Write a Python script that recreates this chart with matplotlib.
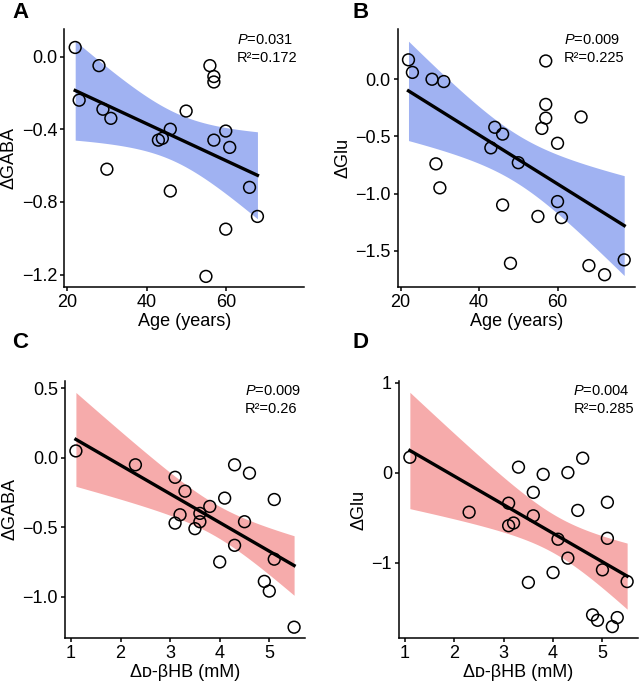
import numpy as np
import matplotlib

matplotlib.use("Agg")
import matplotlib.pyplot as plt

# ---- data ------------------------------------------------------------------
age_gaba = [22, 23, 28, 29, 31, 30, 50, 43, 44, 46, 46, 56, 57, 57, 57, 60, 61, 60, 55, 66, 68]
dgaba_age = [0.05, -0.24, -0.05, -0.29, -0.34, -0.62, -0.30, -0.46, -0.45, -0.40, -0.74,
             -0.05, -0.11, -0.14, -0.46, -0.41, -0.50, -0.95, -1.21, -0.72, -0.88]

age_glu = [22, 23, 28, 31, 29, 30, 57, 57, 57, 56, 66, 44, 46, 43, 50, 60, 60, 61, 46, 55,
           48, 68, 72, 77]
dglu_age = [0.17, 0.06, 0.00, -0.02, -0.74, -0.95, 0.16, -0.22, -0.34, -0.43, -0.33, -0.42,
            -0.48, -0.60, -0.73, -0.56, -1.07, -1.21, -1.10, -1.20, -1.61, -1.63, -1.71, -1.58]

bhb_gaba = [1.1, 2.3, 3.1, 3.3, 4.1, 4.3, 4.6, 5.1, 3.8, 3.6, 3.2, 3.1, 3.6, 3.5, 4.5, 4.3,
            4.0, 5.1, 4.9, 5.0, 5.5]
dgaba_bhb = [0.05, -0.05, -0.14, -0.24, -0.29, -0.05, -0.11, -0.30, -0.35, -0.40, -0.41,
             -0.47, -0.46, -0.51, -0.46, -0.63, -0.75, -0.73, -0.89, -0.96, -1.22]

bhb_glu = [1.1, 2.3, 3.3, 3.8, 4.3, 4.6, 3.1, 3.6, 3.6, 3.1, 3.2, 4.5, 5.1, 5.1, 4.1, 4.3,
           4.0, 3.5, 5.0, 5.5, 4.8, 4.9, 5.2, 5.3]
dglu_bhb = [0.17, -0.44, 0.06, -0.02, 0.00, 0.16, -0.34, -0.22, -0.48, -0.59, -0.56, -0.42,
            -0.33, -0.73, -0.74, -0.95, -1.11, -1.22, -1.08, -1.21, -1.58, -1.64, -1.71, -1.61]

stats = [("0.031", "0.172"), ("0.009", "0.225"), ("0.009", "0.26"), ("0.004", "0.285")]
t95 = {19: 2.093, 22: 2.074}  # two-sided 95% t quantiles

BLUE = "#a0b2f2"
RED = "#f6abab"

plt.rcParams.update({
    "font.family": ["Liberation Sans", "DejaVu Sans"],
    "font.size": 13,
    "mathtext.fontset": "custom",
    "mathtext.it": "Liberation Sans:italic",
    "mathtext.rm": "Liberation Sans",
    "axes.linewidth": 1.1,
    "xtick.major.width": 1.1,
    "ytick.major.width": 1.1,
    "xtick.major.size": 3,
    "ytick.major.size": 3,
})

W, H = 639, 685
fig = plt.figure(figsize=(W / 100, H / 100), dpi=100)


def px_axes(left, right, top, bottom):
    return fig.add_axes([left / W, 1 - bottom / H, (right - left) / W, (bottom - top) / H])


def panel(ax, x, y, fill, xlim, ylim, xticks, yticks, yfmt, xlabel, ylabel, p, r2, tx):
    x = np.asarray(x, float)
    y = np.asarray(y, float)
    n = x.size
    b, a = np.polyfit(x, y, 1)
    res = y - (a + b * x)
    s = np.sqrt(np.sum(res**2) / (n - 2))
    xs = np.linspace(x.min(), x.max(), 100)
    se = s * np.sqrt(1 / n + (xs - x.mean())**2 / np.sum((x - x.mean())**2))
    fit = a + b * xs
    ax.fill_between(xs, fit - t95[n - 2] * se, fit + t95[n - 2] * se, color=fill, lw=0, zorder=1)
    ax.scatter(x, y, s=72, facecolors="none", edgecolors="black", linewidths=1.1, zorder=2)
    ax.plot(xs, fit, color="black", lw=2.4, zorder=3)
    ax.set_xlim(*xlim)
    ax.set_ylim(*ylim)
    ax.set_xticks(xticks)
    ax.set_yticks(yticks)
    ax.set_yticklabels([yfmt.format(v).replace("-", "\u2212") for v in yticks])
    ax.set_xlabel(xlabel, fontsize=13, labelpad=1)
    ax.set_ylabel(ylabel, fontsize=13, labelpad=3)
    ax.tick_params(labelsize=13, pad=2, colors="black")
    for side in ("top", "right"):
        ax.spines[side].set_visible(False)
    ax.text(tx, 0.96, "$P$=" + p, transform=ax.transAxes, fontsize=10.5, va="center", ha="left")
    ax.text(tx, 0.89, "R\u00b2=" + r2, transform=ax.transAxes, fontsize=10.5, va="center", ha="left")


axA = px_axes(64.3, 304, 29.3, 287.3)
panel(axA, age_gaba, dgaba_age, BLUE, (19.25, 79.75), (-1.27, 0.15), [20, 40, 60],
      [-1.2, -0.8, -0.4, 0.0], "{:.1f}", "Age (years)", "\u0394GABA", *stats[0], 0.72)

axB = px_axes(397.7, 635, 29.3, 287.3)
panel(axB, age_glu, dglu_age, BLUE, (19.25, 79.75), (-1.82, 0.437), [20, 40, 60],
      [-1.5, -1.0, -0.5, 0.0], "{:.1f}", "Age (years)", "\u0394Glu", *stats[1], 0.70)

bhb_label = "\u0394\u1d05-\u03b2HB (mM)"
axC = px_axes(65, 305, 380.7, 638.3)
panel(axC, bhb_gaba, dgaba_bhb, RED, (0.88, 5.72), (-1.30, 0.556), [1, 2, 3, 4, 5],
      [-1.0, -0.5, 0.0, 0.5], "{:.1f}", bhb_label, "\u0394GABA", *stats[2], 0.75)

axD = px_axes(399, 638, 380.7, 638.3)
panel(axD, bhb_glu, dglu_bhb, RED, (0.88, 5.72), (-1.84, 1.02), [1, 2, 3, 4, 5],
      [-1, 0, 1], "{:.0f}", bhb_label, "\u0394Glu", *stats[3], 0.73)

for lbl, xp, yp in (("A", 12, 18), ("B", 352, 18), ("C", 12, 348), ("D", 352, 348)):
    fig.text(xp / W, 1 - yp / H, lbl, fontsize=16, fontweight="bold", va="baseline", ha="left")

fig.savefig("out.png", dpi=100)
